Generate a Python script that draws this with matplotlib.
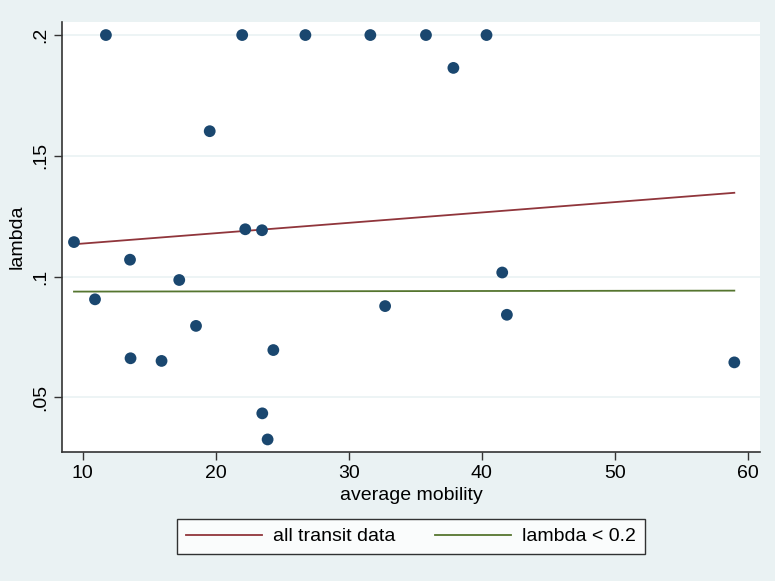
import matplotlib.pyplot as plt
import numpy as np

plt.rcParams['font.family'] = ['Liberation Sans', 'DejaVu Sans']

# scatter points
mobility = [9.35, 10.93, 11.75, 13.56, 13.6, 15.93, 17.26, 18.52, 19.55, 21.99,
            22.22, 23.48, 23.5, 23.9, 24.33, 26.74, 31.62, 32.73, 35.8, 37.86,
            40.35, 41.53, 41.88, 58.97]
lam = [0.1143, 0.0906, 0.2, 0.107, 0.0662, 0.0651, 0.0986, 0.0796, 0.1602, 0.2,
       0.1196, 0.1192, 0.0434, 0.0326, 0.0696, 0.2, 0.2, 0.0878, 0.2, 0.1864,
       0.2, 0.1017, 0.0842, 0.0645]

# fitted lines (end points)
fit_x = [9.35, 58.97]
fit_all = [0.1134, 0.1347]
fit_small = [0.0938, 0.0942]

xticks = [10, 20, 30, 40, 50, 60]
yticks = [0.05, 0.1, 0.15, 0.2]
ytick_labels = ['.05', '.1', '.15', '.2']

bg = '#eaf2f3'
fs = 14
fig = plt.figure(figsize=(7.75, 5.81), dpi=100, facecolor=bg)
ax = fig.add_axes([62/775, 1-452/581, 698/775, 430/581])
ax.set_facecolor('white')

for y in yticks:
    ax.axhline(y, color=bg, lw=1.2, zorder=0)

ax.plot(fit_x, fit_all, color='#90353b', lw=1.3, label='all transit data', zorder=2)
ax.plot(fit_x, fit_small, color='#55752f', lw=1.3, label='lambda < 0.2', zorder=2)
ax.scatter(mobility, lam, s=72, color='#1a476f', edgecolors='none', zorder=3)

ax.set_xlim(8.45, 60.9)
ax.set_ylim(0.0274, 0.2054)
ax.set_xticks(xticks)
ax.set_yticks(yticks)
ax.set_yticklabels(ytick_labels, rotation=90, va='center')
ax.tick_params(labelsize=fs, length=6, width=1, color='#333333', pad=3)

for s in ['top', 'right']:
    ax.spines[s].set_visible(False)
for s in ['left', 'bottom']:
    ax.spines[s].set_color('#333333')
    ax.spines[s].set_linewidth(1.2)

ax.set_xlabel('average mobility', fontsize=fs, labelpad=4)
ax.set_ylabel('lambda', fontsize=fs, labelpad=5)

leg = fig.legend(loc='center', bbox_to_anchor=(411/775, 1-536.5/581), ncol=2,
                 fontsize=fs, frameon=True, fancybox=False, edgecolor='black',
                 handlelength=3.9, handletextpad=0.6, columnspacing=2.0,
                 borderpad=0.45)
leg.get_frame().set_linewidth(1.0)

fig.savefig('out.png', dpi=100, facecolor=bg)
